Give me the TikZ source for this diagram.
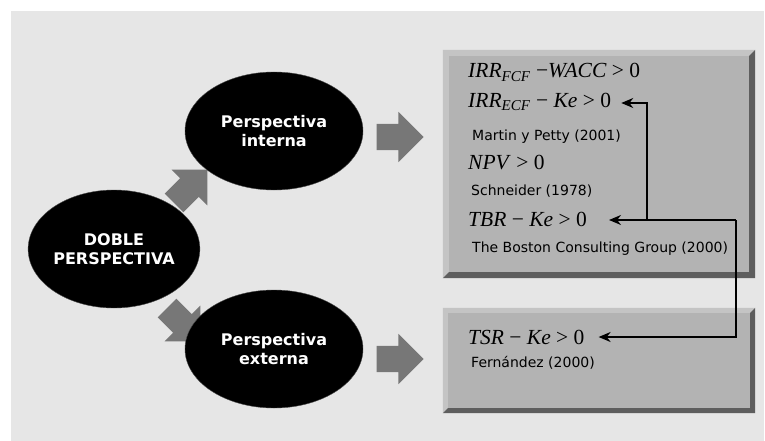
\documentclass[tikz,border=0pt]{standalone}
\usepackage{fontspec}
\usetikzlibrary{shapes.arrows,shapes.geometric,arrows.meta,positioning}
\newfontfamily\verd{DejaVu Sans}
\newfontfamily\tnr{Liberation Serif}
\definecolor{paper}{HTML}{E6E6E6}
\definecolor{panelgray}{HTML}{B3B3B3}
\definecolor{panelshade}{HTML}{5E5E5E}
\definecolor{panellight}{HTML}{C4C4C4}
\definecolor{blockgray}{HTML}{777777}
\tikzset{>=Stealth,
  blob/.style={ellipse, fill=black, draw=black!70, thin, text=white, align=center,
    inner sep=0pt, minimum width=178pt, minimum height=118pt,
    font=\verd\bfseries\fontsize{16}{19}\selectfont},
  blockarrow/.style={single arrow, fill=blockgray, minimum height=47pt,
    single arrow head extend=12pt, inner xsep=0pt, inner ysep=13pt},
  panel/.style={fill=panelgray, inner sep=0pt},
  formula/.style={anchor=base west, inner sep=0pt, font=\tnr\fontsize{21.5}{24}\selectfont},
  cite/.style={anchor=base west, inner sep=0pt, font=\verd\fontsize{14}{16}\selectfont},
  link/.style={-{Stealth[length=12pt,width=10pt]}, line width=1.6pt, line join=miter}
}
\newcommand{\vr}[1]{\textit{#1}}

\begin{document}
\begin{tikzpicture}[x=1pt,y=-1pt]
\useasboundingbox (0,0) rectangle (765,441);
\fill[white] (0,0) rectangle (765,441);
\fill[paper] (11,11) rectangle (764,441);

% block arrows, partly hidden by the ellipses
\node[blockarrow, rotate=45] (upA) at (186,191) {};
\node[blockarrow, rotate=-45] (downA) at (179,320) {};

\node[blob, minimum width=158pt] (doble) at (114,249) {DOBLE\\PERSPECTIVA};
\node[blob] (interna) at (274,131) {Perspectiva\\interna};
\node[blob] (externa) at (274,349) {Perspectiva\\externa};

\node[blockarrow] (toInt) at (393.5,137) {};
\node[blockarrow] (toExt) at (393.5,359) {};

% panels with bevel
\node[panel, minimum width=312pt, minimum height=228pt] (topbox) at (599,164) {};
\node[panel, minimum width=312pt, minimum height=105pt] (lowbox) at (599,360.5) {};
\foreach \b/\w in {topbox/6, lowbox/5} {
  \fill[panellight] (\b.north west) -- (\b.north east) -- ([shift={(-\w,\w)}]\b.north east)
    -- ([shift={(\w,\w)}]\b.north west) -- ([shift={(\w,-\w)}]\b.south west) -- (\b.south west) -- cycle;
  \fill[panelshade] (\b.north east) -- (\b.south east) -- (\b.south west)
    -- ([shift={(\w,-\w)}]\b.south west) -- ([shift={(-\w,-\w)}]\b.south east)
    -- ([shift={(-\w,\w)}]\b.north east) -- cycle;
}

% criteria
\node[formula] (wacc) at (468,78) {\vr{IRR}\textsubscript{\vr{FCF}} −\vr{WACC} > 0};
\node[formula] (irrke) at (468,107) {\vr{IRR}\textsubscript{\vr{ECF}} − \vr{Ke} > 0};
\node[cite] (martin) at (472,140) {Martin y Petty (2001)};
\node[formula] (npv) at (468,169) {\vr{NPV} > 0};
\node[cite] (schneider) at (471,195) {Schneider (1978)};
\node[formula] (tbr) at (468,226) {\vr{TBR} − \vr{Ke} > 0};
\node[cite] (bcg) at (472,252) {The Boston Consulting Group (2000)};
\node[formula] (tsr) at (468,344) {\vr{TSR} − \vr{Ke} > 0};
\node[cite] (fernandez) at (471,367) {Fernández (2000)};

% connectors
\coordinate (bendA) at (736,337);
\coordinate (bendB) at (736,220);
\coordinate (bendC) at (647,220);
\coordinate (bendD) at (647,103);
\draw[link, shorten >=14pt] (bendB) -- (bendA) -- (bendA -| tsr.east);
\draw[link, shorten >=22pt] (bendB) -- (bendB -| tbr.east);
\draw[link, shorten >=10pt] (bendC) -- (bendD) -- (bendD -| irrke.east);
\end{tikzpicture}
\end{document}
